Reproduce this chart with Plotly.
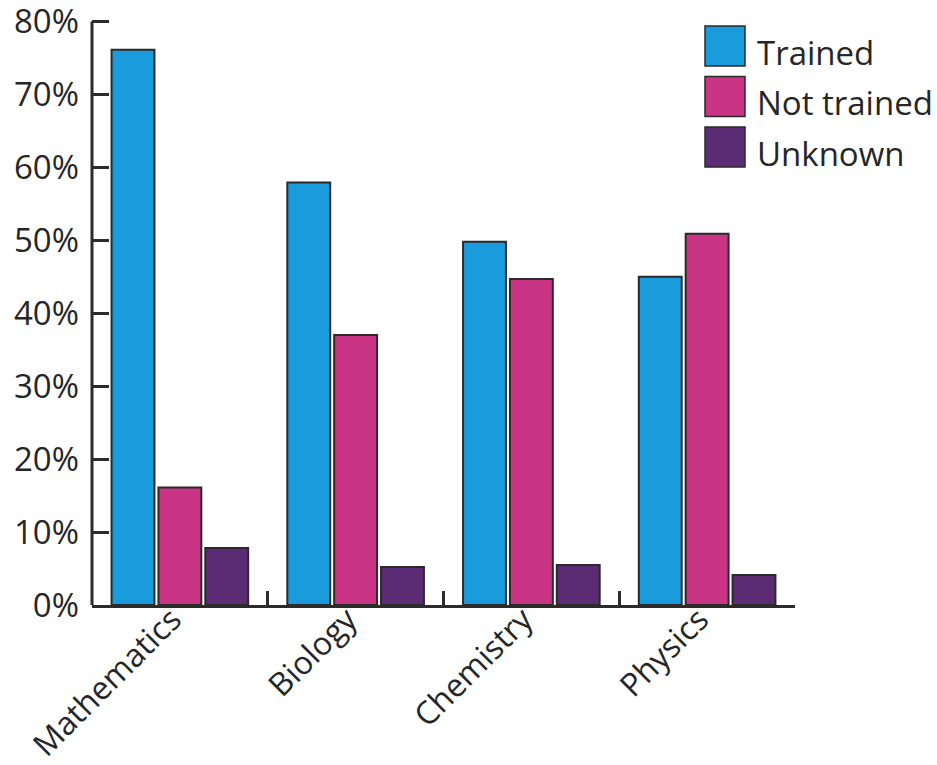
import plotly.graph_objects as go

# Share of teachers by subject and training status (%)
subjects = ["Mathematics", "Biology", "Chemistry", "Physics"]
trained = [76.1, 57.9, 49.8, 45.0]
not_trained = [16.1, 37.0, 44.7, 50.9]
unknown = [7.8, 5.2, 5.5, 4.1]

series_names = ["Trained", "Not trained", "Unknown"]
series_values = [trained, not_trained, unknown]
series_colors = ["#1a9bdb", "#c93584", "#5b2b74"]

y_ticks = [0, 10, 20, 30, 40, 50, 60, 70, 80]
y_tick_text = [f"{v}%" for v in y_ticks]
Y_MAX = 80
Y_HEADROOM = 0.6

FONT = "Open Sans"
TEXT = "#262626"
AXIS = "#2b2b2b"

W, H = 937, 765
px_per_unit = 584 / Y_MAX
L, R, B = 92, 142, 160
T = round(H - B - px_per_unit * (Y_MAX + Y_HEADROOM))

fig = go.Figure()
for name, vals, col in zip(series_names, series_values, series_colors):
    fig.add_trace(go.Bar(
        x=subjects, y=vals, name=name,
        marker=dict(color=col, line=dict(color="#2a2a2a", width=2)),
        showlegend=False,
    ))

# Vertical axis line, ending at the top tick
fig.add_shape(type="line", xref="paper", yref="y", x0=0, x1=0, y0=0, y1=Y_MAX,
              line=dict(color=AXIS, width=3))

# Legend drawn as large swatches with text labels
plot_w = W - L - R
plot_h = H - T - B

def px_x(px):
    return (px - L) / plot_w

def px_y(py):
    return (H - B - py) / plot_h

for i, (name, col) in enumerate(zip(series_names, series_colors)):
    top = 26 + i * 50.5
    fig.add_shape(type="rect", xref="paper", yref="paper",
                  x0=px_x(705), x1=px_x(745), y0=px_y(top + 40), y1=px_y(top),
                  fillcolor=col, line=dict(color="#2a2a2a", width=1.5))
    fig.add_annotation(xref="paper", yref="paper", x=px_x(755), y=px_y(top + 26),
                       text=name, showarrow=False, xanchor="left", yanchor="middle",
                       font=dict(family=FONT, size=33, color=TEXT))

fig.update_layout(
    width=W, height=H,
    margin=dict(l=L, r=R, t=T, b=B, pad=0, autoexpand=False),
    paper_bgcolor="white", plot_bgcolor="white",
    barmode="group", bargap=0.2, bargroupgap=0.085,
    font=dict(family=FONT, size=33, color=TEXT),
    xaxis=dict(
        range=[-0.5, 3.5], showline=True, linecolor=AXIS, linewidth=3,
        ticks="inside", tickson="boundaries", ticklen=14, tickwidth=3,
        tickcolor=AXIS, tickangle=-45, showgrid=False, zeroline=False,
        automargin=False, ticklabelstandoff=-20, ticklabelshift=-8,
        tickfont=dict(family=FONT, size=32, color=TEXT),
    ),
    yaxis=dict(
        range=[0, Y_MAX + Y_HEADROOM], tickvals=y_ticks, ticktext=y_tick_text,
        showline=False,
        ticks="inside", ticklen=17, tickwidth=3, tickcolor=AXIS,
        showgrid=False, zeroline=False, ticklabelstandoff=12,
        ticklabeloverflow="allow", automargin=False,
        tickfont=dict(family=FONT, size=33, color=TEXT),
    ),
)

fig.write_html("out.html")
